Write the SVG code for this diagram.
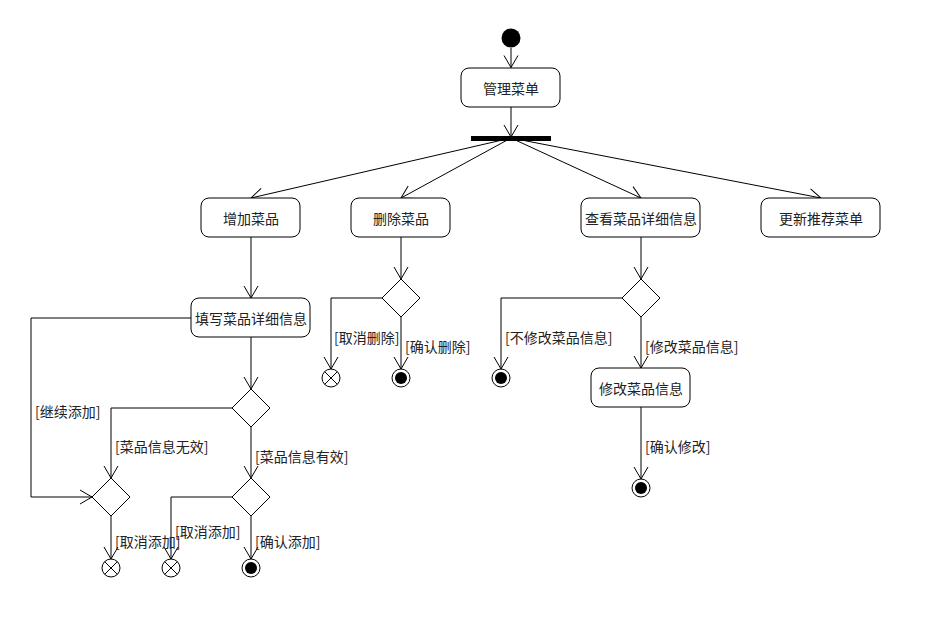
<svg xmlns="http://www.w3.org/2000/svg" width="933" height="623" viewBox="0 0 933 623">
<style>
.box{fill:#fff;stroke:#000;stroke-width:1}
.t{font-family:"Noto Sans CJK SC","Liberation Sans",sans-serif;font-size:14px;fill:#222}
.c{text-anchor:middle;dominant-baseline:central}
.l{dominant-baseline:central}
.e{fill:none;stroke:#000;stroke-width:1}
.dia{fill:#fff;stroke:#000;stroke-width:1}
</style>
<defs>
<marker id="arr" viewBox="-13 -8 14 16" refX="0" refY="0" markerWidth="14" markerHeight="16" markerUnits="userSpaceOnUse" orient="auto">
<path d="M-12,-7 L0,0 L-12,7" fill="none" stroke="#000" stroke-width="1"/>
</marker>
</defs>
<rect width="933" height="623" fill="#fff"/>
<g id="connectors">
<path class="e" d="M511,48 L511,67.5" marker-end="url(#arr)"/>
<path class="e" d="M511,107 L511,137" marker-end="url(#arr)"/>
<path class="e" d="M511,138 L251,198" marker-end="url(#arr)"/>
<path class="e" d="M511,138 L401,198" marker-end="url(#arr)"/>
<path class="e" d="M511,138 L641,198" marker-end="url(#arr)"/>
<path class="e" d="M511,138 L821,198" marker-end="url(#arr)"/>
<path class="e" d="M251,237 L251,298" marker-end="url(#arr)"/>
<path class="e" d="M251,337 L251,389" marker-end="url(#arr)"/>
<path class="e" d="M232,408 L111,408 L111,478" marker-end="url(#arr)"/>
<path class="e" d="M251,427 L251,478" marker-end="url(#arr)"/>
<path class="e" d="M191,318 L31,318 L31,497 L92,497" marker-end="url(#arr)"/>
<path class="e" d="M111,516 L111,559" marker-end="url(#arr)"/>
<path class="e" d="M232,497 L171,497 L171,559" marker-end="url(#arr)"/>
<path class="e" d="M251,516 L251,559" marker-end="url(#arr)"/>
<path class="e" d="M401,237 L401,279" marker-end="url(#arr)"/>
<path class="e" d="M382,298 L331,298 L331,369" marker-end="url(#arr)"/>
<path class="e" d="M401,317 L401,369" marker-end="url(#arr)"/>
<path class="e" d="M641,237 L641,279" marker-end="url(#arr)"/>
<path class="e" d="M622,298 L501,298 L501,369" marker-end="url(#arr)"/>
<path class="e" d="M641,317 L641,368" marker-end="url(#arr)"/>
<path class="e" d="M641,407 L641,479" marker-end="url(#arr)"/>
<text class="t l" x="35" y="411">[继续添加]</text>
<text class="t l" x="115" y="446">[菜品信息无效]</text>
<text class="t l" x="255" y="456">[菜品信息有效]</text>
<text class="t l" x="115" y="541">[取消添加]</text>
<text class="t l" x="175" y="531">[取消添加]</text>
<text class="t l" x="255" y="541">[确认添加]</text>
<text class="t l" x="334" y="337">[取消删除]</text>
<text class="t l" x="405" y="346">[确认删除]</text>
<text class="t l" x="505" y="337">[不修改菜品信息]</text>
<text class="t l" x="645" y="346">[修改菜品信息]</text>
<text class="t l" x="645" y="446">[确认修改]</text>
</g>
<g id="start"><circle cx="511" cy="38" r="9.5" fill="#000"/></g>
<g id="manage"><rect class="box" x="461" y="68" width="99" height="39" rx="8"/><text class="t c" x="511" y="88">管理菜单</text></g>
<g id="fork"><rect x="471" y="136" width="80" height="5" fill="#000"/></g>
<g id="add"><rect class="box" x="201" y="198" width="99" height="39" rx="8"/><text class="t c" x="251" y="218">增加菜品</text></g>
<g id="delete"><rect class="box" x="351" y="198" width="99" height="39" rx="8"/><text class="t c" x="401" y="218">删除菜品</text></g>
<g id="view"><rect class="box" x="581" y="198" width="119" height="39" rx="8"/><text class="t c" x="641" y="218">查看菜品详细信息</text></g>
<g id="update"><rect class="box" x="761" y="198" width="119" height="39" rx="8"/><text class="t c" x="821" y="218">更新推荐菜单</text></g>
<g id="fill"><rect class="box" x="191" y="298" width="119" height="39" rx="8"/><text class="t c" x="251" y="318">填写菜品详细信息</text></g>
<g id="modify"><rect class="box" x="591" y="368" width="99" height="39" rx="8"/><text class="t c" x="641" y="388">修改菜品信息</text></g>
<g id="d1"><path class="dia" d="M251,389 L270,408 L251,427 L232,408 Z"/></g>
<g id="d2"><path class="dia" d="M111,478 L130,497 L111,516 L92,497 Z"/></g>
<g id="d3"><path class="dia" d="M251,478 L270,497 L251,516 L232,497 Z"/></g>
<g id="d4"><path class="dia" d="M401,279 L420,298 L401,317 L382,298 Z"/></g>
<g id="d5"><path class="dia" d="M641,279 L660,298 L641,317 L622,298 Z"/></g>
<g id="x1"><circle class="dia" cx="111" cy="568" r="9"/><path class="e" d="M104.6,561.6 L117.4,574.4 M117.4,561.6 L104.6,574.4"/></g>
<g id="x2"><circle class="dia" cx="171" cy="568" r="9"/><path class="e" d="M164.6,561.6 L177.4,574.4 M177.4,561.6 L164.6,574.4"/></g>
<g id="x3"><circle class="dia" cx="331" cy="378" r="9"/><path class="e" d="M324.6,371.6 L337.4,384.4 M337.4,371.6 L324.6,384.4"/></g>
<g id="f1"><circle class="dia" cx="251" cy="568" r="9"/><circle cx="251" cy="568" r="6" fill="#000"/></g>
<g id="f2"><circle class="dia" cx="401" cy="378" r="9"/><circle cx="401" cy="378" r="6" fill="#000"/></g>
<g id="f3"><circle class="dia" cx="501" cy="378" r="9"/><circle cx="501" cy="378" r="6" fill="#000"/></g>
<g id="f4"><circle class="dia" cx="641" cy="488" r="9"/><circle cx="641" cy="488" r="6" fill="#000"/></g>
</svg>
